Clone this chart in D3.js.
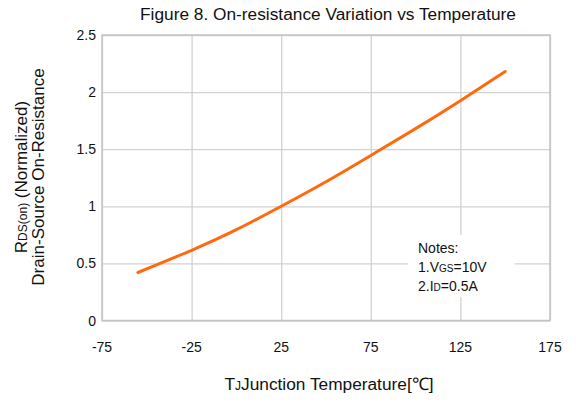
<!DOCTYPE html>
<html>
<head>
<meta charset="utf-8">
<script src="https://cdn.jsdelivr.net/npm/d3@7"></script>
<style>
  body { margin: 0; background: #fff; }
  text { font-family: "Liberation Sans", Arial, sans-serif; fill: #111; }
</style>
</head>
<body>
<svg id="chart" width="576" height="403"></svg>
<script>
// data
const tempC = [-55, -25, 0, 25, 50, 75, 100, 125, 150];
const rdsNorm = [0.42, 0.615, 0.795, 1.00, 1.215, 1.445, 1.68, 1.925, 2.18];
const xTicks = [-75, -25, 25, 75, 125, 175];
const yTicks = [0, 0.5, 1, 1.5, 2, 2.5];

const svg = d3.select('#chart');
const m = { left: 102, right: 550, top: 35, bottom: 320.5 };

const x = d3.scaleLinear().domain([-75, 175]).range([m.left, m.right]);
const y = d3.scaleLinear().domain([0, 2.5]).range([m.bottom, m.top]);

// grid
svg.append('g')
    .attr('transform', `translate(0,${m.bottom})`)
    .call(d3.axisBottom(x).tickValues(xTicks).tickSize(-(m.bottom - m.top)).tickFormat(''))
    .call(g => g.select('.domain').remove())
    .call(g => g.selectAll('line').attr('stroke', '#d2d2d2').attr('stroke-width', 1.3));

svg.append('g')
    .attr('transform', `translate(${m.left},0)`)
    .call(d3.axisLeft(y).tickValues(yTicks).tickSize(-(m.right - m.left)).tickFormat(''))
    .call(g => g.select('.domain').remove())
    .call(g => g.selectAll('line').attr('stroke', '#d2d2d2').attr('stroke-width', 1.3));

svg.append('rect')
    .attr('x', m.left).attr('y', m.top)
    .attr('width', m.right - m.left).attr('height', m.bottom - m.top)
    .attr('fill', 'none').attr('stroke', '#c4c4c4').attr('stroke-width', 1.5);

// tick labels
svg.append('g').selectAll('text')
    .data(xTicks).join('text')
    .attr('x', d => x(d)).attr('y', 352)
    .attr('text-anchor', 'middle').attr('font-size', 14)
    .text(d => d);

svg.append('g').selectAll('text')
    .data(yTicks).join('text')
    .attr('x', 96).attr('y', d => y(d) + 5)
    .attr('text-anchor', 'end').attr('font-size', 14)
    .text(d => d);

// curve
svg.append('path')
    .datum(tempC.map((t, i) => [t, rdsNorm[i]]))
    .attr('fill', 'none')
    .attr('stroke', '#ff6a0e')
    .attr('stroke-width', 3)
    .attr('stroke-linecap', 'round')
    .attr('d', d3.line().x(d => x(d[0])).y(d => y(d[1])).curve(d3.curveNatural));

// notes box
svg.append('rect')
    .attr('x', 408).attr('y', 235).attr('width', 107).attr('height', 62)
    .attr('fill', '#fff');

const notes = svg.append('text').attr('x', 418).attr('font-size', 14);
notes.append('tspan').attr('x', 418).attr('y', 253).text('Notes:');
const n1 = notes.append('tspan').attr('x', 418).attr('y', 272);
n1.append('tspan').text('1.V');
n1.append('tspan').attr('font-size', 10).text('GS');
n1.append('tspan').text('=10V');
const n2 = notes.append('tspan').attr('x', 418).attr('y', 291);
n2.append('tspan').text('2.I');
n2.append('tspan').attr('font-size', 10).text('D');
n2.append('tspan').text('=0.5A');

// title
svg.append('text')
    .attr('x', 328).attr('y', 20)
    .attr('text-anchor', 'middle').attr('font-size', 17.3)
    .text('Figure 8. On-resistance Variation vs Temperature');

// x label
const xl = svg.append('text')
    .attr('x', 329).attr('y', 390)
    .attr('text-anchor', 'middle').attr('font-size', 17.3);
xl.append('tspan').text('T');
xl.append('tspan').attr('font-size', 12).text('J');
xl.append('tspan').text('Junction Temperature[℃]');

// y label
const yl = svg.append('g').attr('transform', 'translate(0,177) rotate(-90)');
const y1 = yl.append('text')
    .attr('x', 0).attr('y', 27)
    .attr('text-anchor', 'middle').attr('font-size', 17);
y1.append('tspan').text('R');
y1.append('tspan').attr('font-size', 12).text('DS(on)');
y1.append('tspan').text(' (Normalized)');
yl.append('text')
    .attr('x', 0).attr('y', 44)
    .attr('text-anchor', 'middle').attr('font-size', 17)
    .text('Drain-Source On-Resistance');
</script>
</body>
</html>
